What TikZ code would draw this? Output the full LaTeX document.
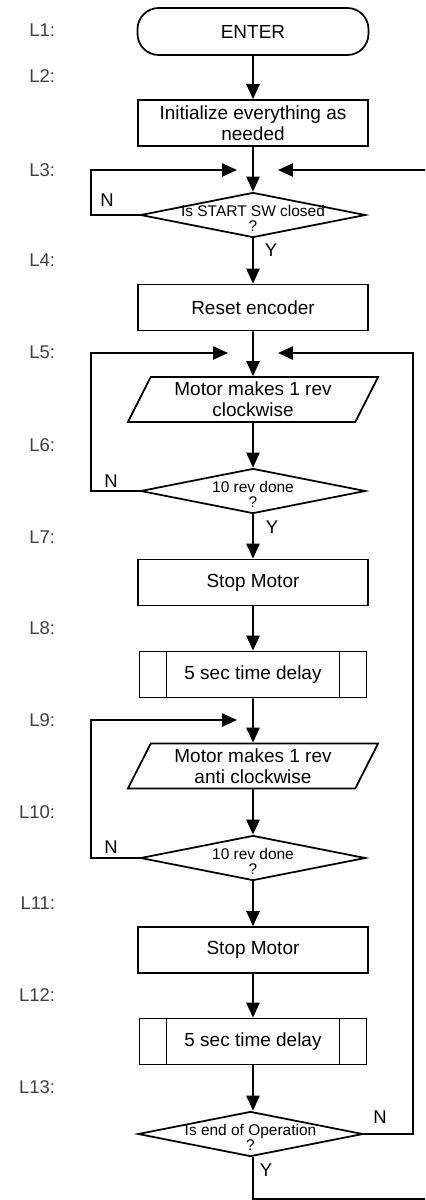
\documentclass[tikz,border=0pt]{standalone}
\usepackage{fontspec}
\setmainfont{Liberation Sans}
\setsansfont{Liberation Sans}
\usetikzlibrary{arrows.meta, shapes.geometric}
\tikzset{
  every picture/.style={font=\sffamily, line width=2pt},
  terminal/.style={draw, rounded corners=0.85cm, minimum width=9.24cm, minimum height=1.88cm, font=\fontsize{21.6}{24}\selectfont},
  box/.style={draw, align=center, minimum width=9.2cm, minimum height=1.84cm, inner sep=2pt, font=\fontsize{21.6}{24}\selectfont},
  io/.style={draw, trapezium, trapezium left angle=65, trapezium right angle=115, trapezium stretches=true, align=center, minimum width=10.04cm, minimum height=1.8cm, inner sep=2pt, font=\fontsize{21.6}{24}\selectfont},
  subproc/.style={draw, minimum width=9.08cm, minimum height=1.84cm, font=\fontsize{21.6}{24}\selectfont,
    path picture={
      \draw ([xshift=1.08cm]path picture bounding box.north west) -- ([xshift=1.08cm]path picture bounding box.south west);
      \draw ([xshift=-1.08cm]path picture bounding box.north east) -- ([xshift=-1.08cm]path picture bounding box.south east);
    }},
  decision/.style={draw, diamond, minimum width=9cm, minimum height=1.8cm, inner sep=0pt},
  qtext/.style={font=\fontsize{17.6}{17}\selectfont, align=center, inner sep=0pt, yshift=-0.15cm},
  arrow/.style={-{Triangle[length=17pt, width=15pt]}},
  yn/.style={font=\fontsize{21}{24}\selectfont, inner sep=0pt},
  lnum/.style={font=\fontsize{21}{24}\selectfont, text=black!75, anchor=east, inner sep=0pt},
}
\begin{document}
\begin{tikzpicture}
  \useasboundingbox (-10.12,0) rectangle (6.88,-48);
  \clip (-10.12,0) rectangle (6.88,-48);

  % line numbers
  \node[lnum] (l1) at (-7.88,-1.2) {L1:};
  \node[lnum] (l2) at (-7.88,-3.04) {L2:};
  \node[lnum] (l3) at (-7.88,-6.8) {L3:};
  \node[lnum] (l4) at (-7.88,-10.4) {L4:};
  \node[lnum] (l5) at (-7.88,-14.08) {L5:};
  \node[lnum] (l6) at (-7.88,-17.8) {L6:};
  \node[lnum] (l7) at (-7.88,-21.48) {L7:};
  \node[lnum] (l8) at (-7.88,-25.12) {L8:};
  \node[lnum] (l9) at (-7.88,-28.8) {L9:};
  \node[lnum] (l10) at (-7.88,-32.48) {L10:};
  \node[lnum] (l11) at (-7.88,-36.12) {L11:};
  \node[lnum] (l12) at (-7.88,-39.8) {L12:};
  \node[lnum] (l13) at (-7.88,-43.48) {L13:};

  % flow
  \node[terminal] (enter) at (0,-1.26) {ENTER};
  \node[box] (init) at (0,-4.92) {Initialize everything as\\needed};
  \node[decision, label={[qtext]center:Is START SW closed\\?}] (d1) at (0,-8.6) {};
  \node[box] (reset) at (0,-12.3) {Reset encoder};
  \node[io] (cw) at (0,-15.98) {Motor makes 1 rev\\clockwise};
  \node[decision, label={[qtext]center:10 rev done\\?}] (d2) at (0,-19.64) {};
  \node[box] (stop1) at (0,-23.3) {Stop Motor};
  \node[subproc] (wait1) at (0,-26.98) {5 sec time delay};
  \node[io] (ccw) at (0,-30.64) {Motor makes 1 rev\\anti clockwise};
  \node[decision, label={[qtext]center:10 rev done\\?}] (d3) at (0,-34.32) {};
  \node[box] (stop2) at (0,-38.0) {Stop Motor};
  \node[subproc] (wait2) at (0,-41.66) {5 sec time delay};
  \node[decision, label={[qtext]center:Is end of Operation\\?}] (d4) at (-0.1,-45.36) {};

  % loop ends
  \coordinate (lx) at (-6.48,0);
  \coordinate (rx) at (6.4,0);
  \coordinate (fx) at (8,0);
  \coordinate (in3l) at (-0.64,-6.8);
  \coordinate (in3r) at (1.0,-6.8);
  \coordinate (in5l) at (-1.0,-14.12);
  \coordinate (in5r) at (1.0,-14.12);
  \coordinate (in9l) at (-0.64,-28.8);
  \coordinate (bot) at (0,-47.97);

  \draw[arrow] (enter) -- (init);
  \draw[arrow] (init) -- (d1);
  \draw[arrow] (d1) -- (reset);
  \draw[arrow] (reset) -- (cw);
  \draw[arrow] (cw) -- (d2);
  \draw[arrow] (d2) -- (stop1);
  \draw[arrow] (stop1) -- (wait1);
  \draw[arrow] (wait1) -- (ccw);
  \draw[arrow] (ccw) -- (d3);
  \draw[arrow] (d3) -- (stop2);
  \draw[arrow] (stop2) -- (wait2);
  \draw[arrow] (wait2.south) -- (d4.north -| wait2.south);

  \draw[arrow] (d1.west) -| (lx |- in3l) -- (in3l);
  \draw[arrow] (d2.west) -| (lx |- in5l) -- (in5l);
  \draw[arrow] (d3.west) -| (lx |- in9l) -- (in9l);
  \draw[arrow] (d4.east) -| (rx |- in5r) -- (in5r);
  \draw[arrow] (d4.south -| wait2.south) -- (bot) -| (fx |- in3r) -- (in3r);

  \node[yn] (n1) at (-5.84,-8.0) {N};
  \node[yn] (y1) at (0.72,-10.0) {Y};
  \node[yn] (n2) at (-5.68,-19.24) {N};
  \node[yn] (y2) at (0.76,-21.08) {Y};
  \node[yn] (n3) at (-5.68,-33.88) {N};
  \node[yn] (n4) at (5.08,-44.68) {N};
  \node[yn] (y4) at (0.52,-46.8) {Y};
\end{tikzpicture}
\end{document}
